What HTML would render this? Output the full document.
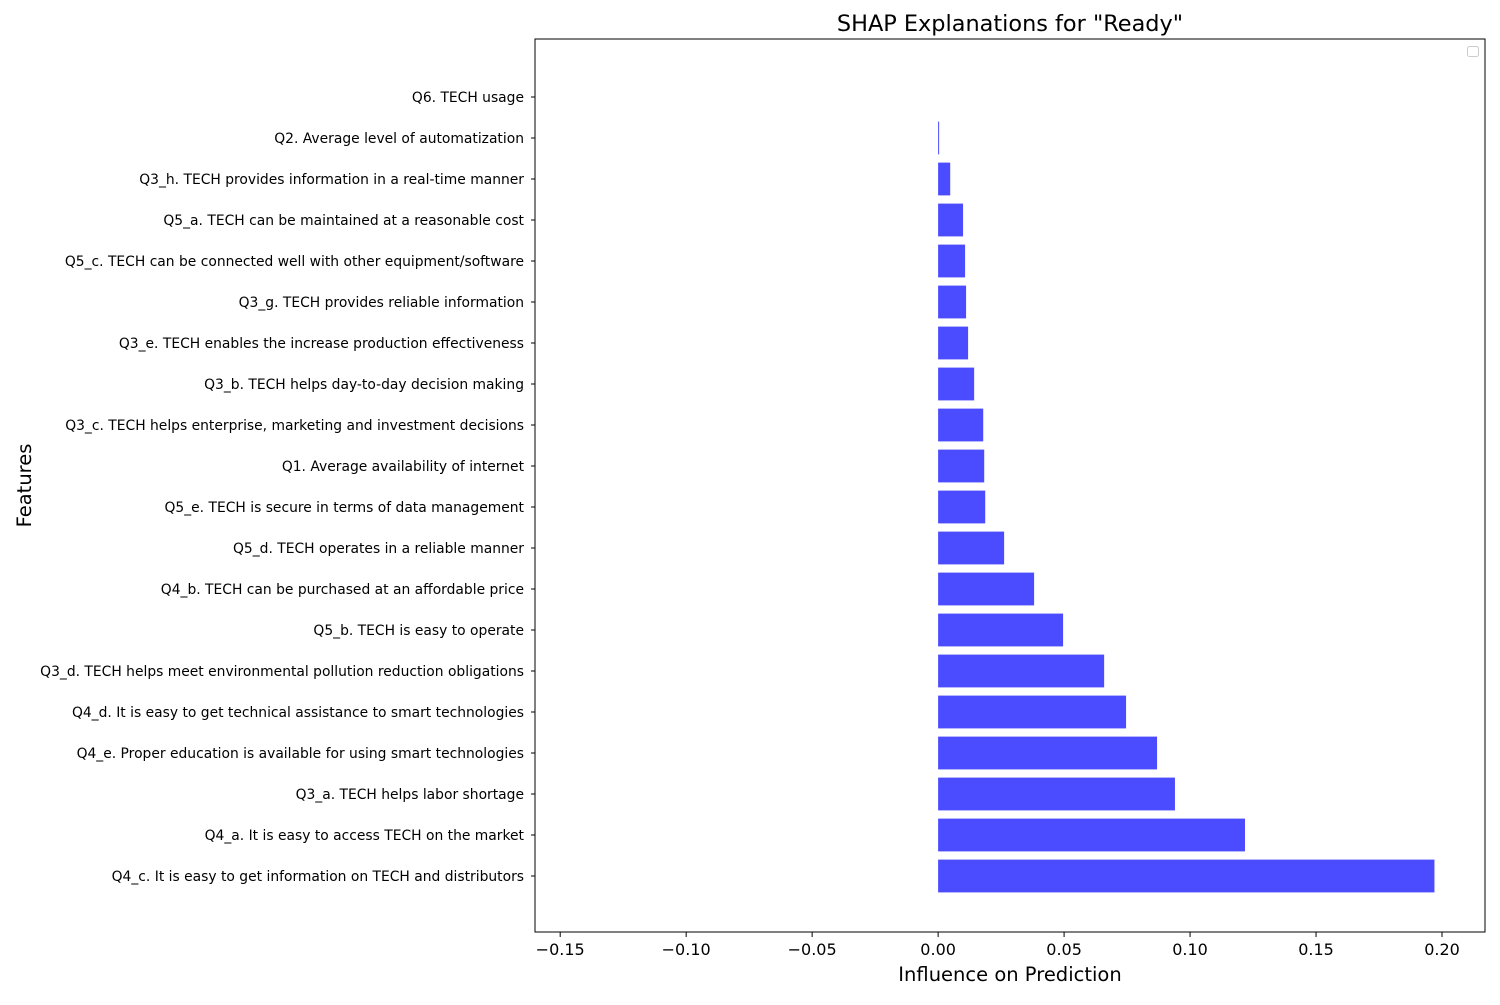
<!DOCTYPE html>
<html><head><meta charset="utf-8">
<style>
body{margin:0;background:#fff;font-family:"Liberation Sans","DejaVu Sans",sans-serif;}
svg text{font-family:"DejaVu Sans","Liberation Sans",sans-serif;}
</style></head>
<body>
<svg id="chart" width="1500" height="1000" xmlns="http://www.w3.org/2000/svg"></svg>
<script>
const categories = [
"Q4_c. It is easy to get information on TECH and distributors",
"Q4_a. It is easy to access TECH on the market",
"Q3_a. TECH helps labor shortage",
"Q4_e. Proper education is available for using smart technologies",
"Q4_d. It is easy to get technical assistance to smart technologies",
"Q3_d. TECH helps meet environmental pollution reduction obligations",
"Q5_b. TECH is easy to operate",
"Q4_b. TECH can be purchased at an affordable price",
"Q5_d. TECH operates in a reliable manner",
"Q5_e. TECH is secure in terms of data management",
"Q1. Average availability of internet",
"Q3_c. TECH helps enterprise, marketing and investment decisions",
"Q3_b. TECH helps day-to-day decision making",
"Q3_e. TECH enables the increase production effectiveness",
"Q3_g. TECH provides reliable information",
"Q5_c. TECH can be connected well with other equipment/software",
"Q5_a. TECH can be maintained at a reasonable cost",
"Q3_h. TECH provides information in a real-time manner",
"Q2. Average level of automatization",
"Q6. TECH usage"
];
const values = [0.197,0.1218,0.094,0.0869,0.0746,0.0659,0.0496,0.0381,0.0262,0.0187,0.0183,0.0179,0.0143,0.0119,0.0111,0.0107,0.0099,0.0048,0.0004,0];
const xTicks = [-0.15,-0.10,-0.05,0.00,0.05,0.10,0.15,0.20];
const xTickLabels = ["\u22120.15","\u22120.10","\u22120.05","0.00","0.05","0.10","0.15","0.20"];

const NS="http://www.w3.org/2000/svg";
const svg=document.getElementById('chart');
const L=535,R=1485,T=39,B=932;
const xMin=-0.16,xMax=(R-938)/2520;
const x=v=>L+(v-xMin)/(xMax-xMin)*(R-L);
const y=i=>876-i*41;
function mk(tag,attrs,txt){const e=document.createElementNS(NS,tag);for(const k in attrs)e.setAttribute(k,attrs[k]);if(txt!==undefined)e.textContent=txt;svg.appendChild(e);return e;}

values.forEach((v,i)=>{
  const x0=x(0),x1=x(v);
  const r=mk('rect',{x:Math.min(x0,x1),y:y(i)-16.4,width:Math.abs(x1-x0),height:32.8,fill:'#4b4bff'});
  
  
});
categories.forEach((c,i)=>{
  mk('line',{x1:L-4,x2:L,y1:y(i),y2:y(i),stroke:'#000','stroke-width':1});
  const t=mk('text',{x:L-11,y:y(i)+5,'text-anchor':'end','font-size':13.86,fill:'#000'},c);
  
  
});
xTicks.forEach((v,i)=>{
  mk('line',{x1:x(v),x2:x(v),y1:B,y2:B+5,stroke:'#000','stroke-width':1});
  const t=mk('text',{x:x(v),y:B+23,'text-anchor':'middle','font-size':16,fill:'#000'},xTickLabels[i]);
  
  
});
const frame=mk('rect',{x:L,y:T,width:R-L,height:B-T,fill:'none',stroke:'#000','stroke-width':1});


const lg=mk('rect',{x:1467.5,y:46.5,width:11,height:10,rx:2,fill:'#fff',stroke:'#ccc','stroke-width':1});


const title=mk('text',{x:(L+R)/2,y:31,'text-anchor':'middle','font-size':22.4,fill:'#000'},'SHAP Explanations for "Ready"');


const xl=mk('text',{x:(L+R)/2,y:981,'text-anchor':'middle','font-size':19.5,fill:'#000'},'Influence on Prediction');


const yl=mk('text',{x:31,y:(T+B)/2,'text-anchor':'middle','font-size':19.5,fill:'#000',transform:'rotate(-90 31 '+((T+B)/2)+')'},'Features');


</script>
</body></html>
